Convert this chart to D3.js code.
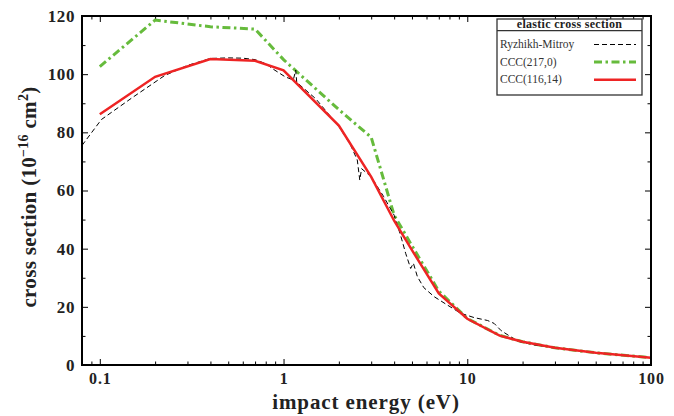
<!DOCTYPE html>
<html><head><meta charset="utf-8">
<script src="https://cdn.jsdelivr.net/npm/d3@7"></script>
<style>body{margin:0;background:#fff;} svg{display:block;}</style>
</head><body><svg id="c" width="674" height="416"></svg>
<script>
// ---- data ----
const cccEnergy = [0.1,0.2,0.4,0.7,1,2,3,4,5,7,10,15,20,30,50,100];
const ccc116 = [86.2,99.1,105.2,104.6,101.3,82.3,64.7,49.6,39.5,24.6,15.9,10.1,8.0,5.9,4.2,2.5];
const ccc217 = [102.6,118.6,116.3,115.5,105.0,87.8,78.3,51.5,41.0,25.4,16.0,10.2,8.0,5.9,4.2,2.5];
const rmEnergy = [0.08,0.102,0.15,0.225,0.3,0.4,0.5,0.6,0.7,0.8,0.88,1.02,1.13,1.165,1.18,1.5,2.0,2.31,2.52,2.6,2.66,3.0,3.5,4.0,4.34,4.62,4.92,5.09,5.35,5.8,6.6,7.8,9.2,10.9,12.9,14.0,15.3,18.8,23.2,30,50,100];
const rmValue = [75.5,84.4,91.9,99.5,103.0,105.4,105.6,105.5,105.0,103.6,101.7,99.1,98.0,101.4,97.2,91.5,82.0,75.8,70.5,63.6,67.5,64.7,58.0,51.5,44.5,38.4,33.2,35.0,30.4,26.6,23.5,20.6,17.8,16.3,15.3,14.3,11.8,8.2,6.9,5.9,4.2,2.5];
const xTickLabels = ["0.1","1","10","100"];
const yTickValues = [0,20,40,60,80,100,120];
const legendLabels = ["Ryzhikh-Mitroy","CCC(217,0)","CCC(116,14)"];
const legendTitle = "elastic cross section";

// ---- layout ----
const svg = d3.select("#c");
const L=82, R=651, T=16, B=365;
const x = d3.scaleLog().domain([0.08,100]).range([L,R]);
const y = d3.scaleLinear().domain([0,120]).range([B,T]);
const font = "'Liberation Serif','Times New Roman',serif";

const majorX = xTickLabels.map(Number);
const minorX = [];
[0.01,0.1,1,10].forEach(d=>{for(let k=2;k<=9;k++){const v=d*k; if(v>=0.08&&v<=100) minorX.push(v);}});
const minorY = d3.range(10,120,20);

function styleAxis(g){g.select(".domain").remove(); g.selectAll("line").attr("stroke","#000").attr("stroke-width",1);}

// bottom
svg.append("g").attr("transform",`translate(0,${B})`).call(d3.axisBottom(x).tickValues(majorX).tickSize(-6).tickFormat((d,i)=>xTickLabels[i]).tickPadding(8)).call(styleAxis)
  .selectAll("text").attr("font-family",font).attr("font-weight","bold").attr("font-size","16px").attr("letter-spacing","0.8px").attr("fill","#222");
svg.append("g").attr("transform",`translate(0,${B})`).call(d3.axisBottom(x).tickValues(minorX).tickSize(-3.5).tickFormat("")).call(styleAxis);
// top
svg.append("g").attr("transform",`translate(0,${T})`).call(d3.axisTop(x).tickValues(majorX).tickSize(-6).tickFormat("")).call(styleAxis);
svg.append("g").attr("transform",`translate(0,${T})`).call(d3.axisTop(x).tickValues(minorX).tickSize(-3.5).tickFormat("")).call(styleAxis);
// left
svg.append("g").attr("transform",`translate(${L},0)`).call(d3.axisLeft(y).tickValues(yTickValues).tickSize(-6).tickPadding(7)).call(styleAxis)
  .selectAll("text").attr("font-family",font).attr("font-weight","bold").attr("font-size","17px").attr("letter-spacing","0.6px").attr("fill","#222");
svg.append("g").attr("transform",`translate(${L},0)`).call(d3.axisLeft(y).tickValues(minorY).tickSize(-3.5).tickFormat("")).call(styleAxis);
// right
svg.append("g").attr("transform",`translate(${R},0)`).call(d3.axisRight(y).tickValues(yTickValues).tickSize(-6).tickFormat("")).call(styleAxis);
svg.append("g").attr("transform",`translate(${R},0)`).call(d3.axisRight(y).tickValues(minorY).tickSize(-3.5).tickFormat("")).call(styleAxis);

// clip
svg.append("clipPath").attr("id","clip").append("rect").attr("x",L).attr("y",T).attr("width",R-L).attr("height",B-T);
const plot = svg.append("g").attr("clip-path","url(#clip)");
const line = d3.line().x(d=>x(d[0])).y(d=>y(d[1]));

plot.append("path").datum(d3.zip(cccEnergy,ccc217)).attr("d",line).attr("fill","none")
  .attr("stroke","#66bb3c").attr("stroke-width",3).attr("stroke-dasharray","8,3.5,2.5,3.5");
plot.append("path").datum(d3.zip(rmEnergy,rmValue)).attr("d",line).attr("fill","none")
  .attr("stroke","#000").attr("stroke-width",1).attr("stroke-dasharray","5,3");
plot.append("path").datum(d3.zip(cccEnergy,ccc116)).attr("d",line).attr("fill","none")
  .attr("stroke","#ee2424").attr("stroke-width",2.5);

// frame
svg.append("rect").attr("x",L).attr("y",T).attr("width",R-L).attr("height",B-T)
  .attr("fill","none").attr("stroke","#000").attr("stroke-width",2);

// axis titles
svg.append("text").attr("x",366).attr("y",409).attr("text-anchor","middle")
  .attr("font-family",font).attr("font-weight","bold").attr("font-size","21px").attr("letter-spacing","0.9px").attr("fill","#222")
  .text("impact energy (eV)");
const yt = svg.append("text").attr("transform","translate(36,197) rotate(-90)").attr("text-anchor","middle")
  .attr("font-family",font).attr("font-weight","bold").attr("font-size","21px").attr("letter-spacing","0.3px").attr("fill","#222");
yt.append("tspan").text("cross section (10");
yt.append("tspan").attr("dy",-8).attr("font-size","14px").text("\u221216");
yt.append("tspan").attr("dy",8).text(" cm");
yt.append("tspan").attr("dy",-8).attr("font-size","14px").text("2");
yt.append("tspan").attr("dy",8).text(")");

// legend
const lg = svg.append("g");
const LX0=497, LX1=642, LY0=19, LY1=95;
lg.append("rect").attr("x",LX0).attr("y",LY0).attr("width",LX1-LX0).attr("height",LY1-LY0)
  .attr("fill","#fff").attr("stroke","#333").attr("stroke-width",1.3);
lg.append("line").attr("x1",LX0).attr("x2",LX1).attr("y1",30.7).attr("y2",30.7).attr("stroke","#333").attr("stroke-width",1.3);
lg.append("text").attr("x",(LX0+LX1)/2).attr("y",27.5).attr("text-anchor","middle")
  .attr("font-family",font).attr("font-weight","bold").attr("font-size","12px").attr("letter-spacing","0.3px").attr("fill","#222").text(legendTitle);
const legStyles = [
  {stroke:"#000",w:1,dash:"5,3"},
  {stroke:"#66bb3c",w:3,dash:"8,3.5,2.5,3.5"},
  {stroke:"#ee2424",w:2.5,dash:null}
];
const legY = [44.5,62,79.7];
legendLabels.forEach((lab,i)=>{
  lg.append("text").attr("x",500).attr("y",legY[i]+3.5).attr("font-family",font).attr("font-size","11.5px").attr("fill","#333").text(lab);
  const ln = lg.append("line").attr("x1",594).attr("x2",636).attr("y1",legY[i]).attr("y2",legY[i])
    .attr("stroke",legStyles[i].stroke).attr("stroke-width",legStyles[i].w);
  if(legStyles[i].dash) ln.attr("stroke-dasharray",legStyles[i].dash);
});
</script></body></html>
